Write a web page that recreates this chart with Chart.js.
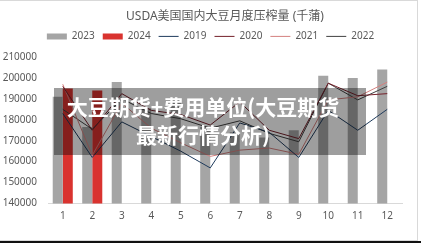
<!DOCTYPE html>
<html>
<head>
<meta charset="utf-8">
<script src="https://cdn.jsdelivr.net/npm/chart.js@4/dist/chart.umd.min.js"></script>
<style>
  html, body { margin: 0; padding: 0; background: #fff; }
  #wrap { position: relative; width: 421px; height: 243px; overflow: hidden; }
  #chart { position: absolute; left: 0; top: 0; }
  /* 外枠 */
  .frame { position: absolute; left: 0; top: 0; width: 417px; height: 239px; border: 1px solid #d9d9d9; border-left: none; }
  .foot { position: absolute; left: 0; top: 241px; width: 421px; height: 2px; background: #111; }
  /* 上に重なる帯と見出し */
  .banner {
    position: absolute; left: 54px; top: 88px; width: 298px; height: 63px;
    padding: 4px 14px 0 0; box-sizing: content-box;
    background: rgba(0, 0, 0, 0.38);
    color: #fff; font: 700 21px/28px "Noto Sans CJK SC", sans-serif;
    text-align: center; white-space: nowrap;
  }
</style>
</head>
<body>
<div id="wrap">
  <canvas id="chart" width="421" height="243"></canvas>
  <div class="frame"></div>
  <div class="foot"></div>
  <div class="banner">大豆期货+费用单位(大豆期货<br>最新行情分析)</div>
</div>
<script>
// --- data (千蒲) ---
const months = ['1', '2', '3', '4', '5', '6', '7', '8', '9', '10', '11', '12'];
const crush2023 = [191000, 176500, 198000, 185500, 189000, 176500, 174000, 171500, 175000, 201000, 200000, 204000];
const crush2024 = [195000, 194000, null, null, null, null, null, null, null, null, null, null];
const crush2019 = [183000, 162000, 179000, 172000, 165000, 157000, 178500, 174000, 162000, 184500, 175000, 185000];
const crush2020 = [196000, 175000, 192500, 184500, 182500, 177500, 188500, 175000, 171000, 197500, 191500, 192500];
const crush2021 = [197000, 163000, 188000, 176000, 169000, 162500, 165500, 166500, 163500, 189500, 191000, 198000];
const crush2022 = [185000, 175500, 190000, 183000, 180500, 176000, 179500, 173500, 169500, 197500, 189500, 196000];
const yTicks = [140000, 150000, 160000, 170000, 180000, 190000, 200000, 210000];

const TEXT = '#595959';
Chart.defaults.font.family = "'Noto Sans', 'Noto Sans CJK SC', sans-serif";
Chart.defaults.color = TEXT;

const lineSet = (label, data, color) => ({
  type: 'line',
  label,
  data,
  borderColor: color,
  backgroundColor: color,
  borderWidth: 1,
  pointRadius: 0,
  pointStyle: 'line',
  tension: 0,
  fill: false,
  order: 1
});

new Chart(document.getElementById('chart'), {
  type: 'bar',
  data: {
    labels: months,
    datasets: [
      { label: '2023', data: crush2023, backgroundColor: '#a5a5a5', pointStyle: 'rect', order: 2,
        categoryPercentage: 0.68, barPercentage: 1 },
      { label: '2024', data: crush2024, backgroundColor: '#d9332f', pointStyle: 'rect', order: 2,
        categoryPercentage: 0.68, barPercentage: 1 },
      lineSet('2019', crush2019, '#1f3b5c'),
      lineSet('2020', crush2020, '#74202a'),
      lineSet('2021', crush2021, '#d4807f'),
      lineSet('2022', crush2022, '#404040')
    ]
  },
  options: {
    responsive: false,
    animation: false,
    layout: { padding: 0 },
    plugins: {
      title: {
        display: true,
        fullSize: false,
        text: 'USDA美国国内大豆月度压榨量 (千蒲)',
        color: TEXT,
        font: { size: 12, weight: 'normal' },
        padding: { top: 9, bottom: 0 }
      },
      // 凡例とグラフの間の余白用
      subtitle: {
        display: true,
        text: '',
        weight: 500,
        font: { size: 1 },
        padding: { top: 4.4, bottom: 0 }
      },
      legend: {
        display: true,
        position: 'top',
        labels: {
          usePointStyle: true,
          pointStyleWidth: 20,
          boxHeight: 6,
          padding: 8,
          color: TEXT,
          font: { size: 10 },
          sort: (a, b) => a.datasetIndex - b.datasetIndex
        }
      },
      tooltip: { enabled: false }
    },
    scales: {
      x: {
        grid: { display: false, drawTicks: false },
        border: { display: true, color: '#d9d9d9' },
        ticks: { color: TEXT, font: { size: 10 }, padding: 7 },
        afterFit: (s) => { s.width = s.width; s.height = 39.5; }
      },
      y: {
        min: 140000,
        max: 210000,
        grid: { display: false, drawTicks: false },
        border: { display: false },
        afterBuildTicks: (s) => { s.ticks = yTicks.map(v => ({ value: v })); },
        ticks: { color: TEXT, font: { size: 10 }, padding: 11, callback: (v) => String(v) },
        afterFit: (s) => { s.width = 48; }
      },
      // 右側の余白だけを取る空の軸
      yRight: {
        position: 'right',
        grid: { display: false, drawTicks: false },
        border: { display: false },
        ticks: { display: false },
        afterFit: (s) => { s.width = 19; }
      }
    }
  }
});
</script>
</body>
</html>
